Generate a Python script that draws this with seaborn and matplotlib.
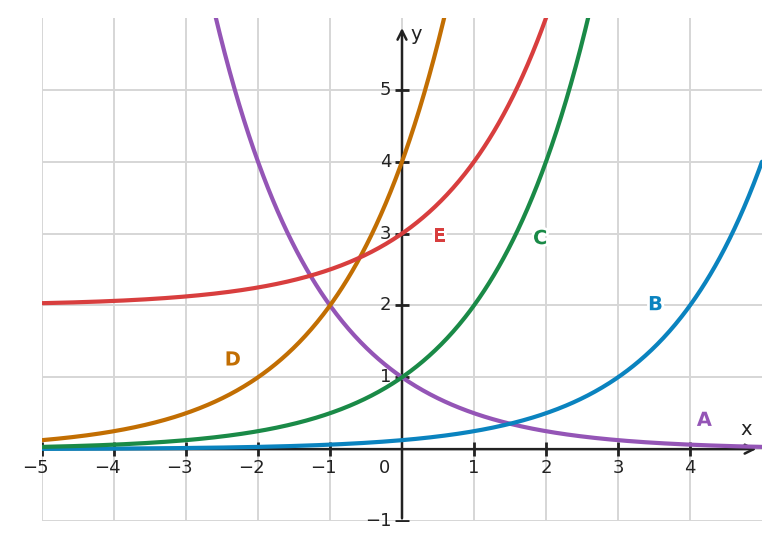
import numpy as np
import pandas as pd
import matplotlib
matplotlib.use('Agg')
import matplotlib.pyplot as plt
import matplotlib.patheffects as pe
import seaborn as sns

# exponential curves y = base ** (x - shift_x) + shift_y
curve_names = ['A', 'B', 'C', 'D', 'E']
bases = [0.5, 2, 2, 2, 2]
shift_x = [0, 3, 0, -2, 0]
shift_y = [0, 0, 0, 0, 2]
curve_colors = ['#9455b6', '#0a83bf', '#1a8a47', '#c26e02', '#d83e3e']

# where the letters sit
label_x = [4.2, 3.52, 1.92, -2.35, 0.52]
label_y = [0.40, 2.01, 2.93, 1.24, 2.96]

x_ticks = [-5, -4, -3, -2, -1, 1, 2, 3, 4]
y_ticks = [-1, 1, 2, 3, 4, 5]

xs = np.linspace(-5, 5, 600)
rows = []
for name, b, sx, sy in zip(curve_names, bases, shift_x, shift_y):
    for xv in xs:
        rows.append({'x': xv, 'y': b ** (xv - sx) + sy, 'curve': name})
df = pd.DataFrame(rows)

sns.set_theme(style='white')
plt.rcParams['font.family'] = ['DejaVu Sans']

fig = plt.figure(figsize=(7.79, 5.5), dpi=100)
ax = fig.add_axes([42 / 779, 29 / 550, 720 / 779, 503 / 550])

ax.set_xlim(-5, 5)
ax.set_ylim(-1, 6)
ax.set_xticks(range(-5, 5))
ax.set_yticks(range(-1, 6))
ax.grid(True, color='#d6d6d6', linewidth=1.4)
ax.set_axisbelow(True)
for s in ax.spines.values():
    s.set_visible(False)
ax.tick_params(length=0, labelbottom=False, labelleft=False)

sns.lineplot(data=df, x='x', y='y', hue='curve', palette=curve_colors,
             estimator=None, sort=False, linewidth=3.0, legend=False, ax=ax,
             zorder=3)
ax.set_xlabel('')
ax.set_ylabel('')

# axes with arrows
axis_col = '#222222'
ax.annotate('', xy=(4.96, 0), xytext=(-5, 0),
            arrowprops=dict(arrowstyle='->', color=axis_col, lw=1.8,
                            mutation_scale=16), zorder=2)
ax.annotate('', xy=(0, 5.9), xytext=(0, -1),
            arrowprops=dict(arrowstyle='->', color=axis_col, lw=1.8,
                            mutation_scale=16), zorder=2)

# tick marks and labels
ax.plot(x_ticks, [0] * len(x_ticks), linestyle='none', marker='|',
        markersize=10, markeredgewidth=2, color=axis_col, zorder=2)
ax.plot([0] * len(y_ticks), y_ticks, linestyle='none', marker='_',
        markersize=10, markeredgewidth=2, color=axis_col, zorder=2)
for t in x_ticks:
    if t < 0:
        # minus sign hangs to the left of the digit
        ax.text(t + 0.09, -0.26, f'\u2212{abs(t)}', ha='right', va='center',
                fontsize=13, color='#222222')
    else:
        ax.text(t, -0.26, f'{t}', ha='center', va='center',
                fontsize=13, color='#222222')
for t in y_ticks:
    ax.text(-0.15, t, f'{t}'.replace('-', '\u2212'), ha='right', va='center',
            fontsize=13, color='#222222')
ax.text(-0.24, -0.26, '0', ha='center', va='center', fontsize=13, color='#222222')
ax.text(4.78, 0.27, 'x', ha='center', va='center', fontsize=14, color='#222222')
ax.text(0.2, 5.77, 'y', ha='center', va='center', fontsize=14, color='#222222')

halo = [pe.withStroke(linewidth=4, foreground='white')]
for name, lx, ly, c in zip(curve_names, label_x, label_y, curve_colors):
    ax.text(lx, ly, name, ha='center', va='center', fontsize=14,
            fontweight='bold', color=c, path_effects=halo, zorder=5)

fig.savefig('out.png', dpi=100, facecolor='white')
